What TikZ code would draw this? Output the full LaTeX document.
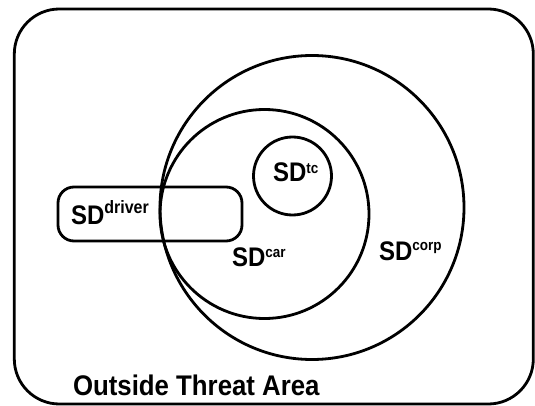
\documentclass[tikz,border=0pt]{standalone}
\usepackage{fontspec}
\usepackage{graphicx}
\setmainfont{Liberation Sans}
\newcommand{\sdlabel}[3]{\scalebox{1}[1.12]{\fontsize{24}{24}\selectfont\bfseries SD\raisebox{#3pt}{\fontsize{#2}{#2}\selectfont #1}}}
\begin{document}
\begin{tikzpicture}[x=1pt,y=-1pt,
  shapeline/.style={draw=black, line width=2.8pt, inner sep=0pt},
  lbl/.style={anchor=base west, inner sep=0pt, outer sep=0pt}]
\useasboundingbox (0,0) rectangle (535,406);
\node[shapeline, rectangle, rounded corners=45pt, minimum width=519pt, minimum height=395pt] (outer) at (273.8,206.5) {};
\node[shapeline, circle, minimum size=304pt] (corp) at (312,207.5) {};
\node[shapeline, circle, minimum size=209pt] (car) at (264.5,214) {};
\node[shapeline, circle, minimum size=78pt] (tc) at (292.5,176) {};
\node[shapeline, rectangle, rounded corners=16pt, minimum width=184pt, minimum height=54pt] (driver) at (150,214) {};
\node[lbl] (tdriver) at (71,224) {\sdlabel{driver}{16}{9.8}};
\node[lbl] (ttc) at (273,182) {\sdlabel{tc}{13.5}{8}};
\node[lbl] (tcar) at (232,266) {\sdlabel{car}{13.5}{7.6}};
\node[lbl] (tcorp) at (379,260) {\sdlabel{corp}{13.5}{8.2}};
\node[lbl] (toutside) at (73,395) {\scalebox{1}[1.1]{\fontsize{25.8}{25.8}\selectfont\bfseries Outside Threat Area}};
\end{tikzpicture}
\end{document}
